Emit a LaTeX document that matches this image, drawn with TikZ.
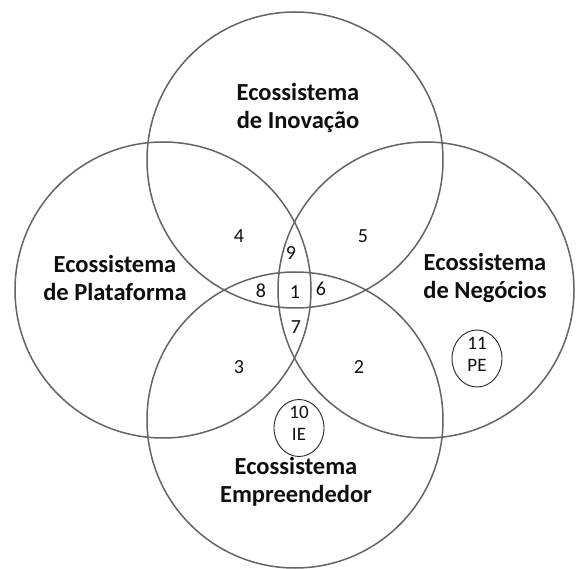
\documentclass[tikz,border=0pt]{standalone}
\usepackage{fontspec}
\setmainfont{Carlito}
\usetikzlibrary{shapes.geometric}
\definecolor{ringgray}{RGB}{100,100,100}
\definecolor{txt}{RGB}{15,15,15}
\begin{document}
\begin{tikzpicture}[x=1pt,y=-1pt,
  venn/.style={circle,draw=ringgray,line width=1.5pt,minimum size=296pt,inner sep=0pt},
  title/.style={align=center,font=\fontsize{24.5}{28}\selectfont\bfseries,text=txt,inner sep=0pt},
  num/.style={font=\fontsize{20}{22}\selectfont,text=txt,inner sep=0pt},
  oval/.style={ellipse,draw=black!85,line width=0.9pt,minimum width=50pt,minimum height=57pt,inner sep=0pt},
  ovaltext/.style={align=center,font=\fontsize{19}{22}\selectfont,text=txt,inner sep=0pt}
]
\useasboundingbox (0,0) rectangle (581,569);
\fill[white] (0,0) rectangle (581,569);
\node[venn] (cT) at (295,160) {};
\node[venn] (cL) at (163,290) {};
\node[venn] (cR) at (426,290) {};
\node[venn] (cB) at (295,420) {};

\node[title] (tT) at (298,108) {Ecossistema\\de Inovação};
\node[title] (tL) at (115,278) {Ecossistema\\de Plataforma};
\node[title] (tR) at (485,278) {Ecossistema\\de Negócios};
\node[title] (tB) at (296,482) {Ecossistema\\Empreendedor};

\node[num] (n4) at (239,236) {4};
\node[num] (n5) at (363,236) {5};
\node[num] (n9) at (291,253) {9};
\node[num] (n8) at (261,291) {8};
\node[num] (n1) at (295,292) {1};
\node[num] (n6) at (321,289) {6};
\node[num] (n7) at (296,327) {7};
\node[num] (n3) at (239,367) {3};
\node[num] (n2) at (359,367) {2};

\node[oval] (e10) at (299,428) {};
\node[ovaltext] (t10) at (299,423) {10\\IE};
\node[oval] (e11) at (477,358.5) {};
\node[ovaltext] (t11) at (477,354) {11\\PE};
\end{tikzpicture}
\end{document}
